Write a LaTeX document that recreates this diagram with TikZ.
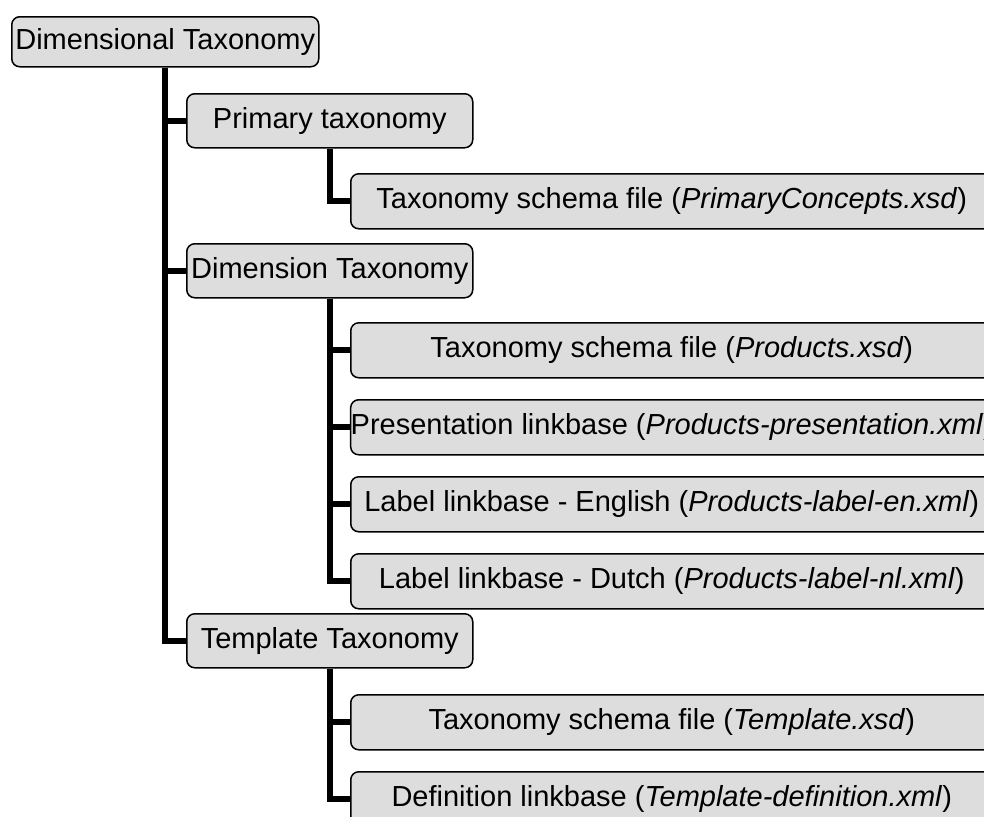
\documentclass[tikz,border=0pt]{standalone}
\usepackage{fontspec}
\setmainfont{Liberation Sans}
\definecolor{boxgrey}{RGB}{221,221,221}
\usetikzlibrary{positioning}

\begin{document}
\begin{tikzpicture}[x=0.5pt, y=-0.5pt,
      box/.style={draw=black, line width=0.75pt, rounded corners=4pt, fill=boxgrey,
                  inner sep=0pt, align=center,
                  font=\fontsize{14.5}{17}\selectfont},
      rootbox/.style={box, minimum width=153.5pt, minimum height=25pt},
      midbox/.style={box, minimum width=143pt, minimum height=27pt},
      leafbox/.style={box, minimum width=321pt, minimum height=27.5pt},
      link/.style={line width=3.2pt, black}
    ]
    \useasboundingbox (0,0) rectangle (984,816);
    \clip (0,0) rectangle (984,816);
    % root
    \node[rootbox, anchor=north west] (root) at (11,16) {Dimensional Taxonomy};
    % primary taxonomy
    \node[midbox, anchor=north west] (prim) at (186,93) {Primary taxonomy};
    \node[leafbox, anchor=north west] (pcon) at (350,173)
      {Taxonomy schema file (\textit{PrimaryConcepts.xsd})};
    % dimension taxonomy
    \node[midbox, anchor=north west] (dim) at (186,243) {Dimension Taxonomy};
    \node[leafbox, anchor=north west] (pxsd) at (350,322)
      {Taxonomy schema file (\textit{Products.xsd})};
    \node[leafbox, below=10.25pt of pxsd] (ppres)
      {Presentation linkbase (\textit{Products-presentation.xml})};
    \node[leafbox, below=10.25pt of ppres] (plen)
      {Label linkbase - English (\textit{Products-label-en.xml})};
    \node[leafbox, below=10.25pt of plen] (plnl)
      {Label linkbase - Dutch (\textit{Products-label-nl.xml})};
    % template taxonomy
    \node[midbox, anchor=north west] (tmpl) at (186,613) {Template Taxonomy};
    \node[leafbox, anchor=north west] (txsd) at (350,694)
      {Taxonomy schema file (\textit{Template.xsd})};
    \node[leafbox, below=10.25pt of txsd] (tdef)
      {Definition linkbase (\textit{Template-definition.xml})};
    % tree lines
    \draw[link] (root.south) |- (prim.west);
    \draw[link] (root.south) |- (dim.west);
    \draw[link] (root.south) |- (tmpl.west);
    \draw[link] (prim.south) |- (pcon.west);
    \foreach \leaf in {pxsd,ppres,plen,plnl}
      \draw[link] (dim.south) |- (\leaf.west);
    \foreach \leaf in {txsd,tdef}
      \draw[link] (tmpl.south) |- (\leaf.west);
  \end{tikzpicture}
\end{document}
